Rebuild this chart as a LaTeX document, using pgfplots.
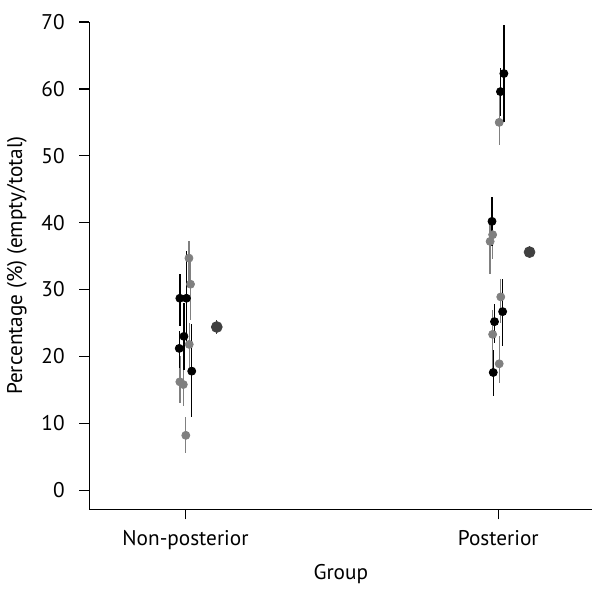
\documentclass[border=0pt]{standalone}
\usepackage{fontspec}
\setmainfont{PT Sans}
\usepackage{pgfplots}
\pgfplotsset{compat=1.18}
\definecolor{ptgray}{HTML}{808080}
\definecolor{meangray}{HTML}{404040}
\begin{document}
\fontsize{10.6}{12}\selectfont
\begin{tikzpicture}
\begin{axis}[
    scale only axis,
    width=251pt, height=243pt,
    xmin=0.692, xmax=2.301,
    ymin=-2.85, ymax=70,
    axis x line=bottom, axis y line=left,
    axis line style={-, line width=0.6pt},
    tick style={line width=0.6pt, black},
    tick align=outside, major tick length=5pt,
    xtick={1,2}, xticklabels={Non-posterior, Posterior},
    xticklabel style={yshift=-2pt},
    ytick={0,10,...,70},
    yticklabel style={xshift=-3.5pt},
    /pgf/number format/assume math mode=true,
    xlabel={Group},
    ylabel={Percentage (\%) (empty/total)},
    xlabel style={yshift=0pt},
    ylabel style={yshift=0pt},
    clip=false,
]
% gray series
\addplot[only marks, mark=*, mark size=2pt, color=ptgray,
    error bars/.cd, y dir=both, y explicit,
    error mark=none, error bar style={line width=0.65pt, ptgray}]
table[x=x, y=y, y error plus=ep, y error minus=em] {
x     y    ep   em
1.011 34.7 2.5 4.2
1.016 30.8 3.7 5.3
1.012 21.8 3.2 3.8
0.982 16.2 3.8 3.2
0.993 15.8 3.2 3.2
1.001 8.2  2.7 2.6
2.003 55.0 4.0 3.4
1.982 38.2 3.3 3.7
1.974 37.2 3.3 4.9
2.008 28.9 2.7 3.9
1.982 23.3 3.7 5.3
2.003 18.9 4.2 2.8
};
% black series
\addplot[only marks, mark=*, mark size=2pt, color=black,
    error bars/.cd, y dir=both, y explicit,
    error mark=none, error bar style={line width=0.65pt, black}]
table[x=x, y=y, y error plus=ep, y error minus=em] {
x     y    ep   em
0.982 28.7 3.6 4.2
1.003 28.7 7.1 6.7
0.995 23.0 5.0 5.0
0.980 21.2 2.6 2.9
1.020 17.8 7.0 6.9
2.018 62.3 7.3 7.2
2.007 59.6 3.5 3.6
1.980 40.2 3.6 3.7
2.014 26.7 4.9 5.1
1.988 25.2 2.6 3.2
1.984 17.6 3.4 3.5
};
% group means
\addplot[only marks, mark=*, mark size=2.7pt, color=meangray,
    error bars/.cd, y dir=both, y explicit,
    error mark=none, error bar style={line width=0.65pt, meangray}]
table[x=x, y=y, y error plus=ep, y error minus=em] {
x    y    ep  em
1.10 24.4 1.1 1.1
2.10 35.6 0.9 0.9
};
\end{axis}
\path ([yshift=11pt]current axis.north);
\end{tikzpicture}
\end{document}
